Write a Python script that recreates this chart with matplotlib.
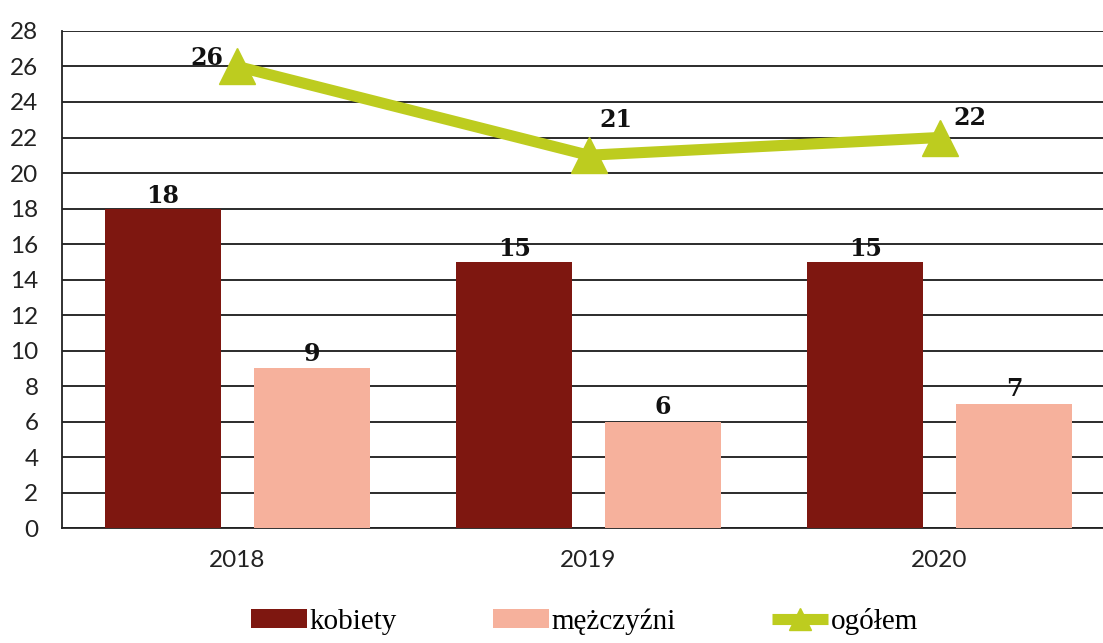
import matplotlib
matplotlib.use("Agg")
import matplotlib.pyplot as plt
import numpy as np

years = ["2018", "2019", "2020"]
kobiety = [18, 15, 15]
mezczyzni = [9, 6, 7]
ogolem = [26, 21, 22]
y_ticks = list(range(0, 30, 2))

c_k = "#7e1710"
c_m = "#f6b19c"
c_o = "#bdcc1f"

fig = plt.figure(figsize=(11.03, 6.43), dpi=100)
ax = fig.add_axes([0.0562, 0.1788, 0.9547, 0.773])

x = np.arange(len(years))
w = 0.33
off = 0.212

b1 = ax.bar(x - off, kobiety, w, color=c_k, label="kobiety", zorder=3)
b2 = ax.bar(x + off, mezczyzni, w, color=c_m, label="mężczyźni", zorder=3)
ln, = ax.plot(x, ogolem, color=c_o, lw=8, marker="^", markersize=26,
              label="ogółem", zorder=4, solid_capstyle="butt")

ax.set_xlim(-0.5, 2.5)
ax.set_ylim(0, 28)
ax.set_yticks(y_ticks)
ax.set_xticks(x)
ax.set_xticklabels(years)
ax.yaxis.grid(True, color="#1a1a1a", lw=1.3, zorder=0)
ax.set_axisbelow(True)
for s in ["top", "right"]:
    ax.spines[s].set_visible(False)
ax.spines["left"].set_color("#222222")
ax.spines["bottom"].set_color("#222222")
ax.spines["left"].set_linewidth(1.3)
ax.spines["bottom"].set_linewidth(1.3)
ax.tick_params(axis="y", length=0, pad=17, labelsize=17.5, labelcolor="#222222")
ax.tick_params(axis="x", length=0, pad=16, labelsize=17.5, labelcolor="#222222")
for lab in ax.get_xticklabels() + ax.get_yticklabels():
    lab.set_fontfamily("Lato")

lbl = dict(fontfamily="DejaVu Serif", fontweight="bold", fontsize=17,
           color="#111111")
for i in range(len(years)):
    ax.text(x[i] - off, kobiety[i] + 0.05, str(kobiety[i]), ha="center",
            va="bottom", **lbl)
    ax.text(x[i] + off, mezczyzni[i] + 0.15, str(mezczyzni[i]), ha="center",
            va="bottom", **lbl)

ax.text(x[0] - 0.04, ogolem[0] - 0.2, str(ogolem[0]), ha="right", va="bottom", **lbl)
ax.text(x[1] + 0.03, ogolem[1] + 1.3, str(ogolem[1]), ha="left", va="bottom", **lbl)
ax.text(x[2] + 0.04, ogolem[2] + 0.4, str(ogolem[2]), ha="left", va="bottom", **lbl)

leg = fig.legend(handles=[b1, b2, ln], labels=["kobiety", "mężczyźni", "ogółem"],
                 loc="lower center", bbox_to_anchor=(0.53, -0.028), ncol=3,
                 frameon=False, handlelength=1.9, handleheight=0.65,
                 columnspacing=3.3, handletextpad=0.1,
                 prop={"family": "Liberation Serif", "size": 21})
for h in leg.legend_handles:
    if hasattr(h, "set_markersize"):
        h.set_markersize(16)

fig.savefig("out.png", dpi=100)
